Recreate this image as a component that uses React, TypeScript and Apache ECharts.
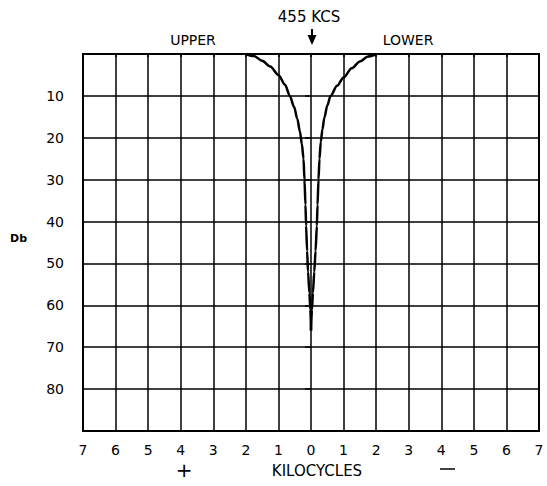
import React, { useEffect, useRef } from "react";
import * as echarts from "echarts";

// Attenuation curve (kilocycles off 455 kc, Db down). Negative = upper side.
const upperBranch: [number, number][] = [
  [-2.0, 0], [-1.75, 0.5], [-1.5, 1.6], [-1.25, 3.0], [-1.0, 5], [-0.8, 7.3],
  [-0.65, 10], [-0.52, 12.6], [-0.42, 15.5], [-0.34, 18.5], [-0.28, 21.5],
  [-0.23, 25], [-0.2, 30], [-0.17, 36], [-0.15, 41], [-0.12, 47], [-0.09, 52],
  [-0.05, 57], [-0.02, 61], [0.0, 66],
];
const lowerBranch: [number, number][] = [
  [2.0, 0], [1.75, 0.6], [1.5, 1.8], [1.25, 3.4], [1.0, 5.6], [0.8, 7.6],
  [0.6, 10], [0.5, 12.3], [0.41, 15.2], [0.35, 18], [0.3, 21],
  [0.26, 25], [0.23, 30], [0.2, 36], [0.18, 41], [0.14, 47], [0.1, 52],
  [0.06, 57], [0.03, 61], [0.0, 66],
];
const xTicks = [-7, -6, -5, -4, -3, -2, -1, 0, 1, 2, 3, 4, 5, 6, 7];
const yTickLabels = [10, 20, 30, 40, 50, 60, 70, 80];

const FONT = "DejaVu Sans";

export default function App() {
  const ref = useRef<HTMLDivElement>(null);
  useEffect(() => {
    if (!ref.current) return;
    const chart = echarts.init(ref.current, null, { renderer: "svg" });
    chart.setOption({
      animation: false,
      backgroundColor: "#ffffff",
      grid: {
        left: 83, top: 54, right: 8, bottom: 55,
        show: true, borderColor: "#000", borderWidth: 2,
      },
      xAxis: {
        type: "value", min: -7, max: 7, interval: 1,
        axisLine: { show: false },
        axisTick: { show: true, length: 3, lineStyle: { color: "#000", width: 1.5 } },
        splitLine: { show: true, lineStyle: { color: "#000", width: 1.5 } },
        axisLabel: {
          color: "#000", fontFamily: FONT, fontSize: 14, margin: 12,
          formatter: (v: number) => (xTicks.includes(v) ? String(Math.abs(v)) : ""),
        },
      },
      yAxis: {
        type: "value", min: 0, max: 90, interval: 10, inverse: true,
        axisLine: { show: false },
        axisTick: { show: true, length: 6, lineStyle: { color: "#000", width: 1.5 } },
        splitLine: { show: true, lineStyle: { color: "#000", width: 1.5 } },
        axisLabel: {
          color: "#000", fontFamily: FONT, fontSize: 14, margin: 19,
          formatter: (v: number) => (yTickLabels.includes(v) ? String(v) : ""),
        },
      },
      series: [
        {
          type: "line", data: upperBranch, smooth: 0.3, smoothMonotone: "x", symbol: "none",
          lineStyle: { color: "#000", width: 2.5 },
        },
        {
          type: "line", data: lowerBranch, smooth: 0.3, smoothMonotone: "x", symbol: "none",
          lineStyle: { color: "#000", width: 2.5 },
        },
      ],
      graphic: [
        { type: "text", left: 10, top: 233, style: { text: "Db", font: `bold 11px ${FONT}`, fill: "#000" } },
        { type: "text", x: 309, y: 17, style: { text: "455 KCS", font: `15px ${FONT}`, fill: "#000", align: "center", verticalAlign: "middle" } },
        { type: "text", x: 193, y: 40, style: { text: "UPPER", font: `14px ${FONT}`, fill: "#000", align: "center", verticalAlign: "middle" } },
        { type: "text", x: 408, y: 40, style: { text: "LOWER", font: `14px ${FONT}`, fill: "#000", align: "center", verticalAlign: "middle" } },
        { type: "line", shape: { x1: 312, y1: 29, x2: 312, y2: 37 }, style: { stroke: "#000", lineWidth: 2 } },
        { type: "polygon", shape: { points: [[307.5, 35], [316.5, 35], [312, 45]] }, style: { fill: "#000" } },
        { type: "text", x: 317, y: 471, style: { text: "KILOCYCLES", font: `15px ${FONT}`, fill: "#000", align: "center", verticalAlign: "middle" } },
        { type: "text", x: 184, y: 470, style: { text: "+", font: `20px ${FONT}`, fill: "#000", align: "center", verticalAlign: "middle" } },
        { type: "line", shape: { x1: 440, y1: 469, x2: 455, y2: 469 }, style: { stroke: "#000", lineWidth: 1.5 } },
      ],
    });
    return () => chart.dispose();
  }, []);
  return (
    <div
      ref={ref}
      style={{ position: "fixed", left: 0, top: 0, width: 547, height: 486 }}
    />
  );
}
